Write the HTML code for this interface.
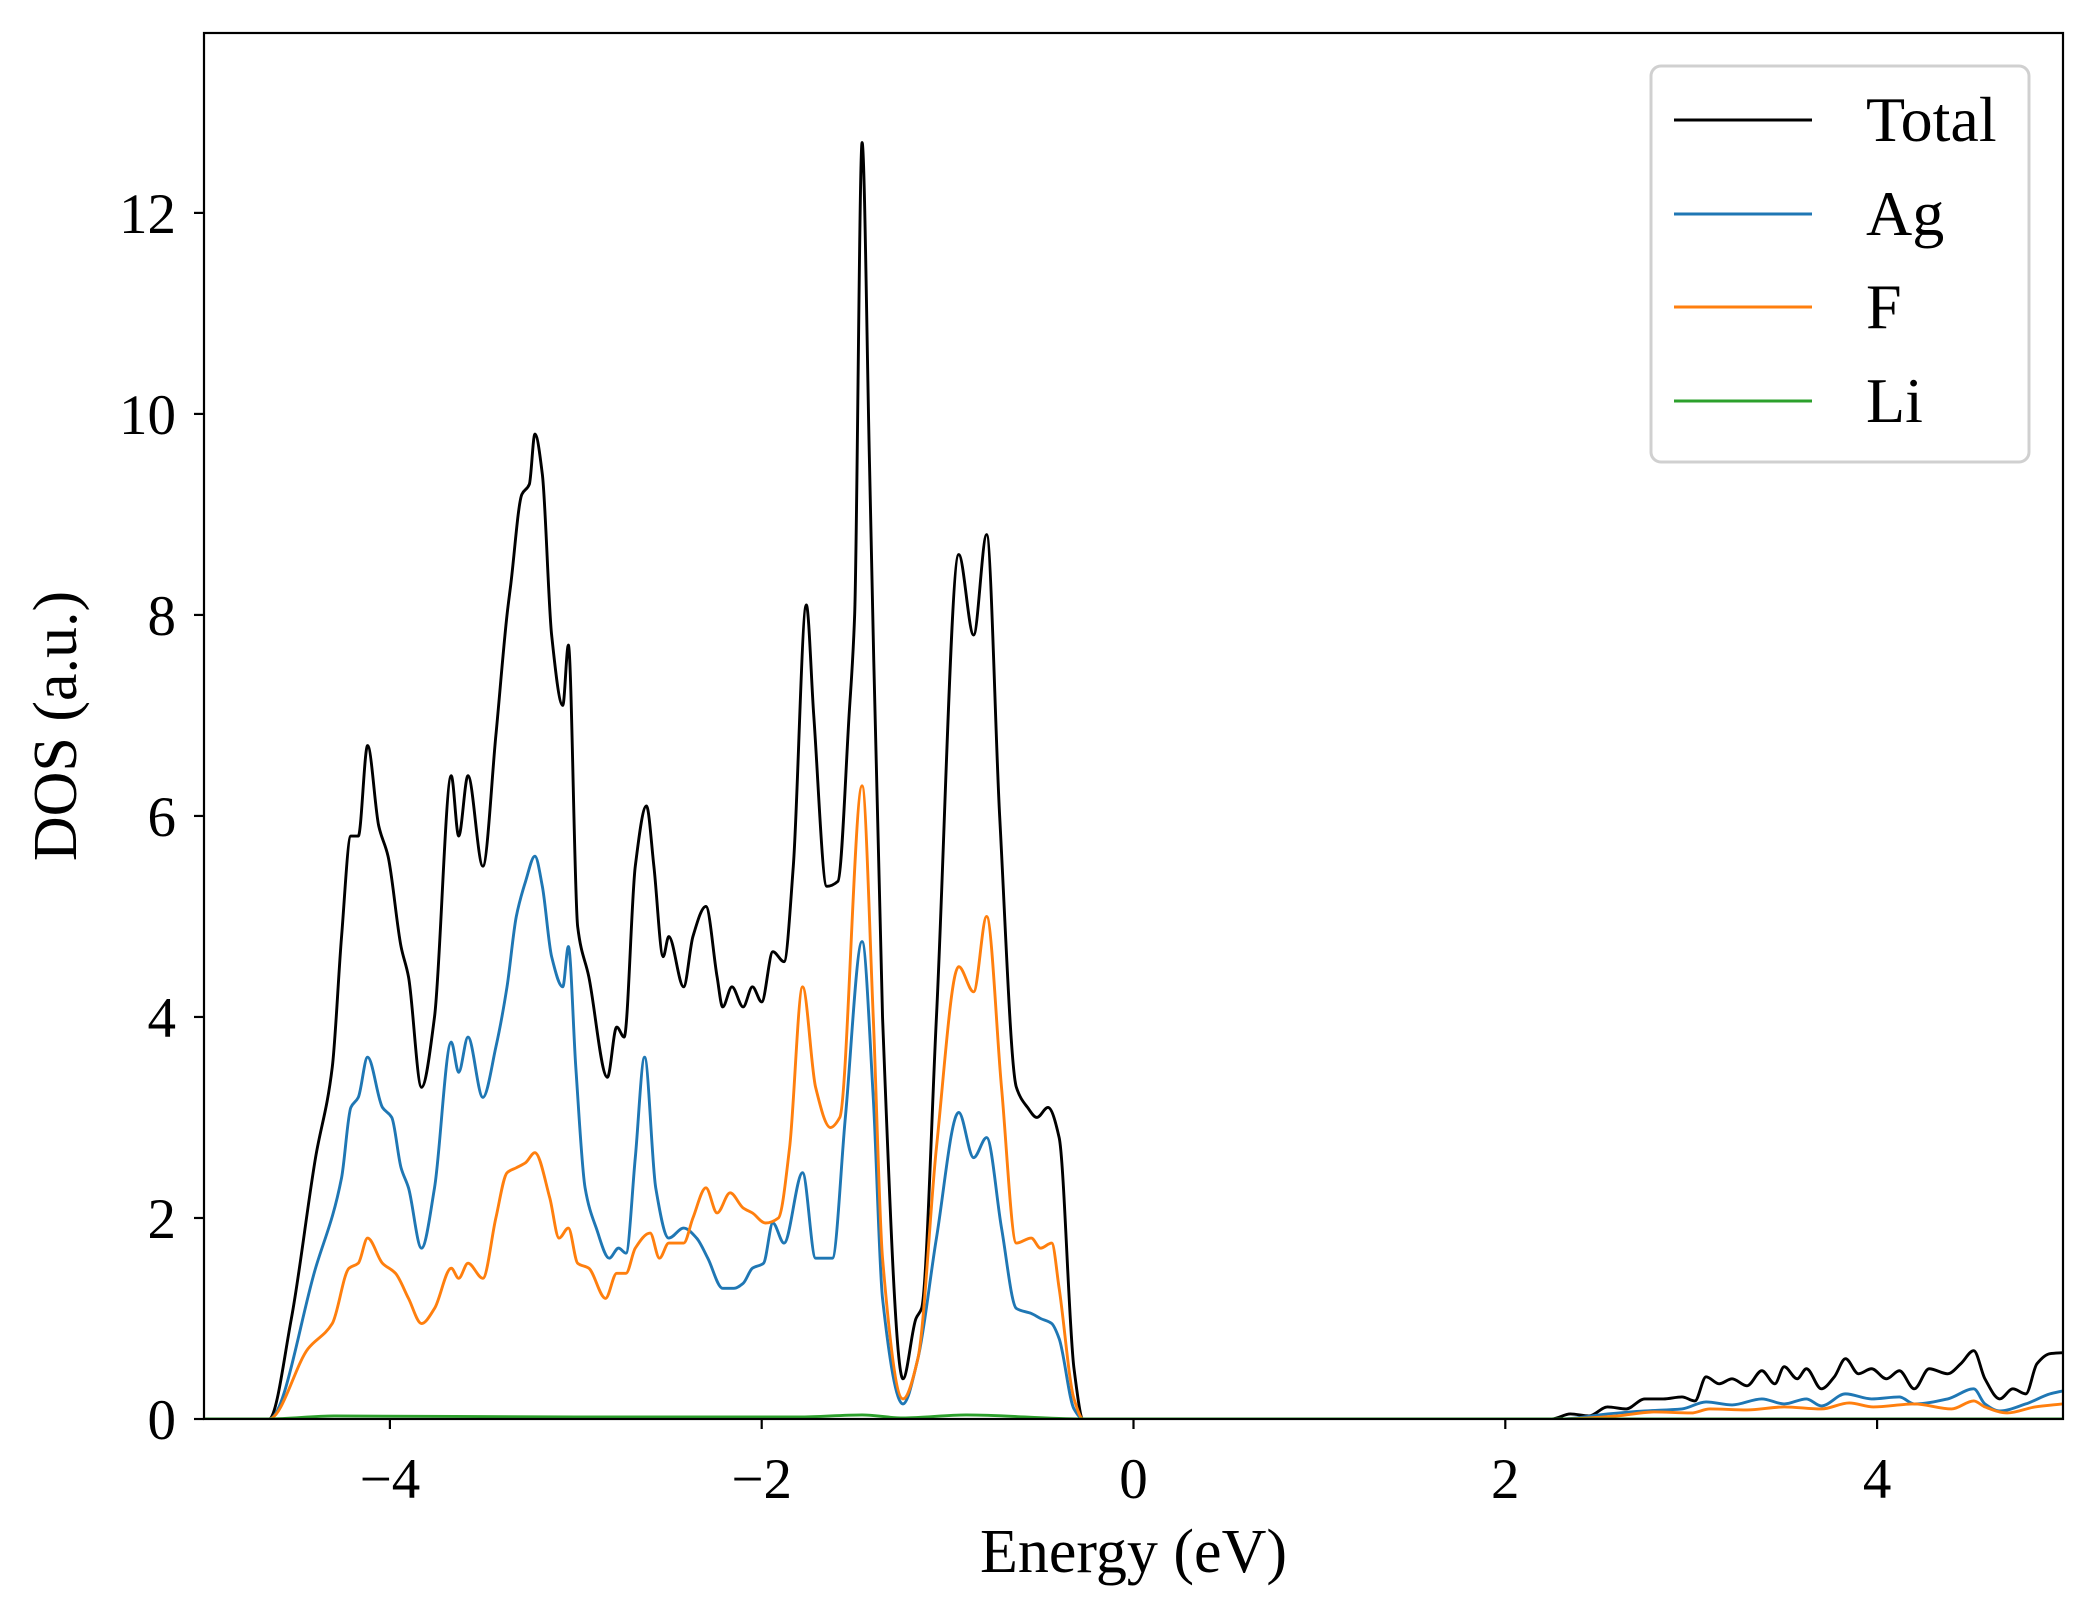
<!DOCTYPE html>
<html><head><meta charset="utf-8"><style>
html,body{margin:0;padding:0;background:#fff;}
svg{display:block;font-family:"Liberation Serif",serif;}
</style></head><body>
<svg id="chart" width="2097" height="1617" viewBox="0 0 2097 1617" xmlns="http://www.w3.org/2000/svg"></svg>
<script>
// ---- data ----
const xTicks = [-4, -2, 0, 2, 4];
const xTickLabels = ["\u22124", "\u22122", "0", "2", "4"];
const yTicks = [0, 2, 4, 6, 8, 10, 12];
const yTickLabels = ["0", "2", "4", "6", "8", "10", "12"];
const seriesNames = ["Total", "Ag", "F", "Li"];

const totalE = [-5,-4.65,-4.53,-4.40,-4.31,-4.26,-4.21,-4.17,-4.12,-4.06,-4.01,-3.94,-3.90,-3.83,-3.76,-3.67,-3.63,-3.58,-3.50,-3.43,-3.37,-3.35,-3.29,-3.25,-3.22,-3.18,-3.13,-3.07,-3.04,-2.99,-2.93,-2.83,-2.78,-2.74,-2.68,-2.62,-2.58,-2.53,-2.50,-2.42,-2.37,-2.30,-2.24,-2.21,-2.16,-2.10,-2.05,-2.00,-1.94,-1.88,-1.83,-1.76,-1.72,-1.65,-1.59,-1.53,-1.50,-1.46,-1.42,-1.35,-1.24,-1.17,-1.14,-1.06,-0.94,-0.86,-0.79,-0.72,-0.63,-0.57,-0.52,-0.46,-0.40,-0.32,-0.27,-0.2,2.25,2.35,2.45,2.55,2.65,2.75,2.85,2.95,3.02,3.08,3.15,3.22,3.30,3.38,3.45,3.50,3.57,3.62,3.70,3.77,3.83,3.90,3.97,4.05,4.12,4.20,4.28,4.38,4.45,4.52,4.58,4.66,4.73,4.80,4.86,4.93,5.0];
const totalV = [0,0,1.0,2.6,3.5,4.8,5.8,5.8,6.7,5.9,5.6,4.7,4.4,3.3,4.0,6.4,5.8,6.4,5.5,6.8,8.0,8.3,9.2,9.3,9.8,9.4,7.8,7.1,7.7,4.9,4.4,3.4,3.9,3.8,5.5,6.1,5.5,4.6,4.8,4.3,4.8,5.1,4.4,4.1,4.3,4.1,4.3,4.15,4.65,4.55,5.5,8.1,7.0,5.3,5.35,7.0,8.0,12.7,9.5,4.0,0.4,1.0,1.1,4.0,8.6,7.8,8.8,6.0,3.3,3.1,3.0,3.1,2.8,0.5,0,0,0,0.05,0.03,0.12,0.1,0.2,0.2,0.22,0.18,0.42,0.35,0.4,0.33,0.48,0.35,0.52,0.4,0.5,0.3,0.42,0.6,0.45,0.5,0.4,0.48,0.3,0.5,0.45,0.55,0.68,0.4,0.2,0.3,0.25,0.55,0.65,0.66];

const agE = [-5,-4.65,-4.40,-4.26,-4.21,-4.17,-4.12,-4.04,-3.99,-3.94,-3.90,-3.83,-3.76,-3.67,-3.63,-3.58,-3.50,-3.43,-3.37,-3.32,-3.27,-3.22,-3.18,-3.13,-3.07,-3.04,-3.00,-2.95,-2.89,-2.82,-2.77,-2.73,-2.68,-2.63,-2.57,-2.50,-2.42,-2.35,-2.29,-2.21,-2.15,-2.10,-2.05,-1.99,-1.94,-1.88,-1.78,-1.71,-1.62,-1.55,-1.46,-1.40,-1.35,-1.24,-1.16,-1.06,-0.94,-0.86,-0.79,-0.71,-0.63,-0.55,-0.50,-0.44,-0.40,-0.32,-0.27,-0.2,2.3,2.55,2.75,2.95,3.08,3.22,3.38,3.50,3.62,3.70,3.83,3.97,4.12,4.20,4.38,4.52,4.58,4.66,4.80,4.93,5.0];
const agV = [0,0,1.5,2.4,3.1,3.2,3.6,3.1,3.0,2.5,2.3,1.7,2.3,3.75,3.45,3.8,3.2,3.7,4.3,5.0,5.35,5.6,5.3,4.6,4.3,4.7,3.5,2.3,1.9,1.6,1.7,1.65,2.6,3.6,2.3,1.8,1.9,1.8,1.6,1.3,1.3,1.35,1.5,1.55,1.95,1.75,2.45,1.6,1.6,3.0,4.75,3.2,1.2,0.15,0.6,1.8,3.05,2.6,2.8,1.9,1.1,1.05,1.0,0.95,0.8,0.1,0,0,0,0.05,0.08,0.1,0.17,0.14,0.2,0.15,0.2,0.13,0.25,0.2,0.22,0.15,0.2,0.3,0.15,0.08,0.15,0.25,0.28];

const fE = [-5,-4.65,-4.44,-4.31,-4.22,-4.17,-4.12,-4.04,-3.97,-3.90,-3.83,-3.76,-3.67,-3.63,-3.58,-3.50,-3.43,-3.37,-3.32,-3.27,-3.22,-3.14,-3.09,-3.04,-2.99,-2.93,-2.84,-2.78,-2.73,-2.68,-2.60,-2.55,-2.50,-2.42,-2.37,-2.30,-2.24,-2.17,-2.10,-2.05,-1.98,-1.91,-1.85,-1.78,-1.71,-1.63,-1.58,-1.46,-1.40,-1.35,-1.24,-1.16,-1.06,-0.94,-0.86,-0.79,-0.71,-0.63,-0.55,-0.50,-0.44,-0.40,-0.32,-0.27,-0.2,2.3,2.6,2.8,3.0,3.1,3.3,3.5,3.7,3.85,3.98,4.2,4.4,4.52,4.58,4.7,4.85,5.0];
const fV = [0,0,0.7,0.95,1.5,1.55,1.8,1.55,1.45,1.2,0.95,1.1,1.5,1.4,1.55,1.4,2.0,2.45,2.5,2.55,2.65,2.2,1.8,1.9,1.55,1.5,1.2,1.45,1.45,1.7,1.85,1.6,1.75,1.75,2.0,2.3,2.05,2.25,2.1,2.05,1.95,2.0,2.7,4.3,3.3,2.9,3.0,6.3,4.0,1.6,0.2,0.6,2.7,4.5,4.25,5.0,3.3,1.75,1.8,1.7,1.75,1.3,0.2,0,0,0,0.03,0.07,0.06,0.1,0.09,0.12,0.1,0.16,0.12,0.15,0.1,0.18,0.12,0.06,0.12,0.15];

const liE = [-5,-4.65,-4.3,-3.0,-1.8,-1.46,-1.24,-0.9,-0.27,5];
const liV = [0,0,0.03,0.02,0.02,0.04,0.01,0.04,0,0];

// ---- layout ----
const L=204,R=2063,T=33,B=1419, XMIN=-5,XMAX=5,YMIN=0,YMAX=13.79;
const sx=e=>L+(e-XMIN)/(XMAX-XMIN)*(R-L);
const sy=v=>B-(v-YMIN)/(YMAX-YMIN)*(B-T);
const NS="http://www.w3.org/2000/svg";
const svg=document.getElementById('chart');
function mk(tag,attrs,parent){const el=document.createElementNS(NS,tag);for(const k in attrs)el.setAttribute(k,attrs[k]);(parent||svg).appendChild(el);return el;}

// monotone cubic (Fritsch-Carlson) path
function pathFor(E,V){
  const x=E.map(sx), y=V.map(sy), n=x.length;
  const d=[], m=new Array(n).fill(0);
  for(let i=0;i<n-1;i++) d.push((y[i+1]-y[i])/(x[i+1]-x[i]));
  m[0]=d[0]; m[n-1]=d[n-2];
  for(let i=1;i<n-1;i++){
    if(d[i-1]*d[i]<=0) m[i]=0;
    else { const h0=x[i]-x[i-1],h1=x[i+1]-x[i]; const w1=2*h1+h0,w2=h1+2*h0; m[i]=(w1+w2)/(w1/d[i-1]+w2/d[i]); }
  }
  let s=`M${x[0]},${y[0]}`;
  for(let i=0;i<n-1;i++){
    const h=(x[i+1]-x[i])/3;
    s+=` C${x[i]+h},${y[i]+m[i]*h} ${x[i+1]-h},${y[i+1]-m[i+1]*h} ${x[i+1]},${y[i+1]}`;
  }
  return s;
}

const clip=mk('clipPath',{id:'clip'});
mk('rect',{x:L,y:T-5,width:R-L,height:B-T+5},clip);
const plot=mk('g',{'clip-path':'url(#clip)'});



const series=[[totalE,totalV,'#000000','total-line'],[agE,agV,'#1f77b4','ag-line'],[fE,fV,'#ff7f0e','f-line'],[liE,liV,'#2ca02c','li-line']];
series.forEach(s=>{
  const el=mk('path',{d:pathFor(s[0],s[1]),fill:'none',stroke:s[2],'stroke-width':2.9,'stroke-linejoin':'round'},plot);
  
  
});

// axes frame
const frame=mk('rect',{x:L,y:T,width:R-L,height:B-T,fill:'none',stroke:'#000','stroke-width':2.2});



xTicks.forEach((t,i)=>{
  const x=sx(t);
  const tk=mk('line',{x1:x,x2:x,y1:B,y2:B+10,stroke:'#000','stroke-width':2.2});
  
  
  const tx=mk('text',{x:x,y:1498,'text-anchor':'middle','font-size':57,fill:'#000'});
  tx.textContent=xTickLabels[i];
  
  
});
yTicks.forEach((t,i)=>{
  const y=sy(t);
  const tk=mk('line',{x1:L-10,x2:L,y1:y,y2:y,stroke:'#000','stroke-width':2.2});
  
  
  const tx=mk('text',{x:176,y:y+20,'text-anchor':'end','font-size':57,fill:'#000'});
  tx.textContent=yTickLabels[i];
  
  
});

const xt=mk('text',{x:(L+R)/2,y:1572,'text-anchor':'middle','font-size':62,fill:'#000'});
xt.textContent='Energy (eV)';


const yt=mk('text',{x:0,y:0,'text-anchor':'middle','font-size':62,fill:'#000',transform:`translate(76,${(T+B)/2}) rotate(-90)`});
yt.textContent='DOS (a.u.)';



// legend
const lg=mk('g',{});


mk('rect',{x:1651,y:66,width:378,height:396,rx:10,fill:'#fff','fill-opacity':0.8,stroke:'#d0d0d0','stroke-width':3},lg);
const rows=[120,214,307,401];
seriesNames.forEach((n,i)=>{
  const ln=mk('line',{x1:1674,x2:1812,y1:rows[i],y2:rows[i],stroke:series[i][2],'stroke-width':2.9},lg);
  
  
  const tx=mk('text',{x:1866,y:rows[i]+21,'font-size':64,fill:'#000'},lg);
  tx.textContent=n;
  
  
});
</script>
</body></html>
